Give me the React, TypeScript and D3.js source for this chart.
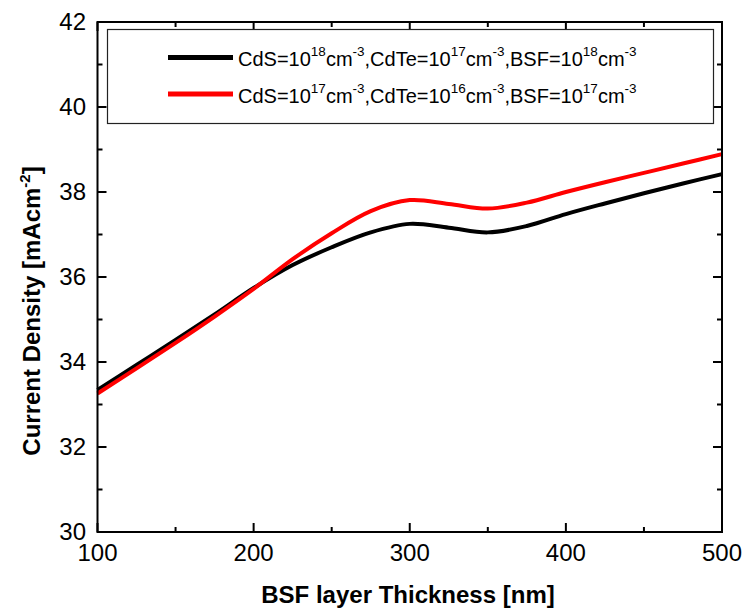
import React from "react";
import * as d3 from "d3";

const thickness = [100, 125, 150, 175, 200, 225, 250, 275, 300, 325, 350, 375, 400, 425, 450, 475, 500];
const seriesBlack = [33.34, 33.93, 34.52, 35.12, 35.74, 36.28, 36.7, 37.05, 37.25, 37.16, 37.05, 37.2, 37.48, 37.73, 37.97, 38.2, 38.42];
const seriesRed = [33.26, 33.85, 34.45, 35.07, 35.72, 36.42, 37.03, 37.55, 37.81, 37.72, 37.61, 37.75, 38.0, 38.23, 38.45, 38.67, 38.89];
const xTicks = [100, 200, 300, 400, 500];
const xMinor = [150, 250, 350, 450];
const yTicks = [30, 32, 34, 36, 38, 40, 42];
const yMinor = [31, 33, 35, 37, 39, 41];
const legendBlack = { cds: "18", cdte: "17", bsf: "18" };
const legendRed = { cds: "17", cdte: "16", bsf: "17" };

const L = 97.5, R = 722, T = 22, B = 532;

export default function App() {
  const x = d3.scaleLinear().domain([100, 500]).range([L, R]);
  const y = d3.scaleLinear().domain([30, 42]).range([B, T]);
  const line = d3
    .line<number>()
    .x((_, i) => x(thickness[i]))
    .y((d) => y(d))
    .curve(d3.curveCatmullRom.alpha(0.5));

  const font = "'Liberation Sans', Arial, sans-serif";
  const major = 9, minor = 5;

  const sup = (s: string) => (
    <tspan fontSize={13.5} dy={-10}>{s}</tspan>
  );

  const legendText = (v: { cds: string; cdte: string; bsf: string }, yy: number) => (
    <text x={238} y={yy} fontSize={20} fontFamily={font} fill="#000">
      <tspan>CdS=10</tspan>
      {sup(v.cds)}
      <tspan dy={10}>cm</tspan>
      {sup("-3")}
      <tspan dy={10}>,CdTe=10</tspan>
      {sup(v.cdte)}
      <tspan dy={10}>cm</tspan>
      {sup("-3")}
      <tspan dy={10}>,BSF=10</tspan>
      {sup(v.bsf)}
      <tspan dy={10}>cm</tspan>
      {sup("-3")}
    </text>
  );

  return (
    <svg width={747} height={613} style={{ position: "absolute", left: 0, top: 0, background: "#fff" }}>
      <rect x={0} y={0} width={747} height={613} fill="#fff" />
      <path d={line(seriesBlack) || ""} fill="none" stroke="#000" strokeWidth={4} />
      <path d={line(seriesRed) || ""} fill="none" stroke="#ff0000" strokeWidth={4} />
      <rect x={L} y={T} width={R - L} height={B - T} fill="none" stroke="#000" strokeWidth={2} />
      {xTicks.map((t) => (
        <g key={"xt" + t}>
          <line x1={x(t)} x2={x(t)} y1={B} y2={B - major} stroke="#000" strokeWidth={2} />
          <line x1={x(t)} x2={x(t)} y1={T} y2={T + major} stroke="#000" strokeWidth={2} />
          <text x={x(t)} y={561} textAnchor="middle" fontSize={24} fontFamily={font}>{t}</text>
        </g>
      ))}
      {xMinor.map((t) => (
        <g key={"xm" + t}>
          <line x1={x(t)} x2={x(t)} y1={B} y2={B - minor} stroke="#000" strokeWidth={2} />
          <line x1={x(t)} x2={x(t)} y1={T} y2={T + minor} stroke="#000" strokeWidth={2} />
        </g>
      ))}
      {yTicks.map((t) => (
        <g key={"yt" + t}>
          <line x1={L} x2={L + major} y1={y(t)} y2={y(t)} stroke="#000" strokeWidth={2} />
          <line x1={R} x2={R - major} y1={y(t)} y2={y(t)} stroke="#000" strokeWidth={2} />
          <text x={86} y={y(t) + 8} textAnchor="end" fontSize={24} fontFamily={font}>{t}</text>
        </g>
      ))}
      {yMinor.map((t) => (
        <g key={"ym" + t}>
          <line x1={L} x2={L + minor} y1={y(t)} y2={y(t)} stroke="#000" strokeWidth={2} />
          <line x1={R} x2={R - minor} y1={y(t)} y2={y(t)} stroke="#000" strokeWidth={2} />
        </g>
      ))}
      <rect x={107.5} y={29.5} width={606} height={94} fill="#fff" stroke="#222" strokeWidth={1.2} />
      <line x1={168} x2={233} y1={57.5} y2={57.5} stroke="#000" strokeWidth={5} />
      <line x1={168} x2={233} y1={94} y2={94} stroke="#ff0000" strokeWidth={5} />
      {legendText(legendBlack, 66)}
      {legendText(legendRed, 103)}
      <text x={408} y={603} textAnchor="middle" fontSize={24} fontWeight="bold" fontFamily={font}>
        BSF layer Thickness [nm]
      </text>
      <text
        transform="translate(40,311) rotate(-90)"
        textAnchor="middle"
        fontSize={24}
        fontWeight="bold"
        fontFamily={font}
      >
        <tspan>Current Density [mAcm</tspan>
        <tspan fontSize={15} dy={-10}>-2</tspan>
        <tspan dy={10}>]</tspan>
      </text>
    </svg>
  );
}
